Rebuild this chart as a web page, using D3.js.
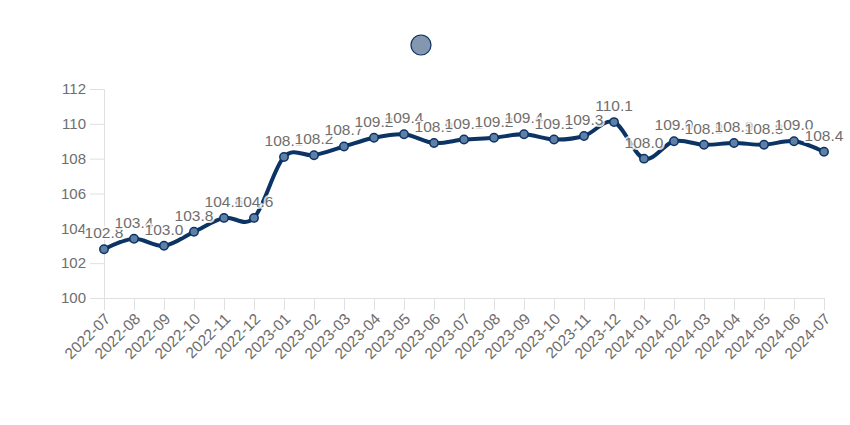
<!DOCTYPE html>
<html><head><meta charset="utf-8">
<script src="https://cdn.jsdelivr.net/npm/d3@7"></script>
<style>body{margin:0;background:#fff}svg{display:block}</style>
</head><body><svg id="c" width="850" height="425"></svg>
<script>
const categories = ["2022-07","2022-08","2022-09","2022-10","2022-11","2022-12","2023-01","2023-02","2023-03","2023-04","2023-05","2023-06","2023-07","2023-08","2023-09","2023-10","2023-11","2023-12","2024-01","2024-02","2024-03","2024-04","2024-05","2024-06","2024-07"];
const values = [102.8,103.4,103.0,103.8,104.6,104.6,108.1,108.2,108.7,109.2,109.4,108.9,109.1,109.2,109.4,109.1,109.3,110.1,108.0,109.0,108.8,108.9,108.8,109.0,108.4];
const yTicks = [100,102,104,106,108,110,112];

const svg = d3.select("#c");
const x = d3.scalePoint().domain(categories).range([104, 824]);
const y = d3.scaleLinear().domain([100,112]).range([298, 89]);
const font = "Arial, 'Liberation Sans', sans-serif";

// y axis
const ya = svg.append("g").attr("transform","translate(104,0)")
  .call(d3.axisLeft(y).tickValues(yTicks).tickSize(14).tickPadding(4).tickFormat(d3.format("d")));
ya.select(".domain").attr("stroke","#e0e0e0");
ya.selectAll(".tick line").attr("stroke","#e0e0e0");
ya.selectAll(".tick text").attr("fill","#6e6e6e").attr("font-size",15).attr("font-family",font);

// x axis
const xa = svg.append("g").attr("transform","translate(0,298)")
  .call(d3.axisBottom(x).tickSize(12).tickSizeOuter(0).tickPadding(6));
xa.select(".domain").attr("stroke","#e0e0e0").attr("d","M104,0.5H824");
xa.selectAll(".tick line").attr("stroke","#e0e0e0");
xa.selectAll(".tick text").attr("fill","#6e6e6e").attr("font-size",15.5).attr("font-family",font)
  .attr("text-anchor","end").attr("dy","0.35em")
  .attr("transform","translate(3,18) rotate(-45)").attr("y",0).attr("x",0);

// line
const line = d3.line().x((d,i)=>x(categories[i])).y(d=>y(d)).curve(d3.curveCardinal.tension(0));
svg.append("path").datum(values).attr("d",line).attr("fill","none")
  .attr("stroke","#0b3363").attr("stroke-width",4);

svg.append("g").selectAll("circle").data(values).join("circle")
  .attr("cx",(d,i)=>x(categories[i])).attr("cy",d=>y(d)).attr("r",4.2)
  .attr("fill","#5f7fa6").attr("stroke","#0b3363").attr("stroke-width",1.5);

// labels
svg.append("g").selectAll("text").data(values).join("text")
  .attr("x",(d,i)=>x(categories[i])).attr("y",d=>y(d)-11)
  .attr("text-anchor","middle").attr("font-size",15.5).attr("font-family",font)
  .attr("fill","#6e6e6e").attr("stroke","#ffffff").attr("stroke-opacity",0.78).attr("stroke-width",4)
  .attr("paint-order","stroke").attr("stroke-linejoin","round")
  .text(d=>d.toFixed(1));

// legend
svg.append("circle").attr("cx",421).attr("cy",45).attr("r",10)
  .attr("fill","#8497b0").attr("stroke","#0b3363").attr("stroke-width",1.2);
</script></body></html>
